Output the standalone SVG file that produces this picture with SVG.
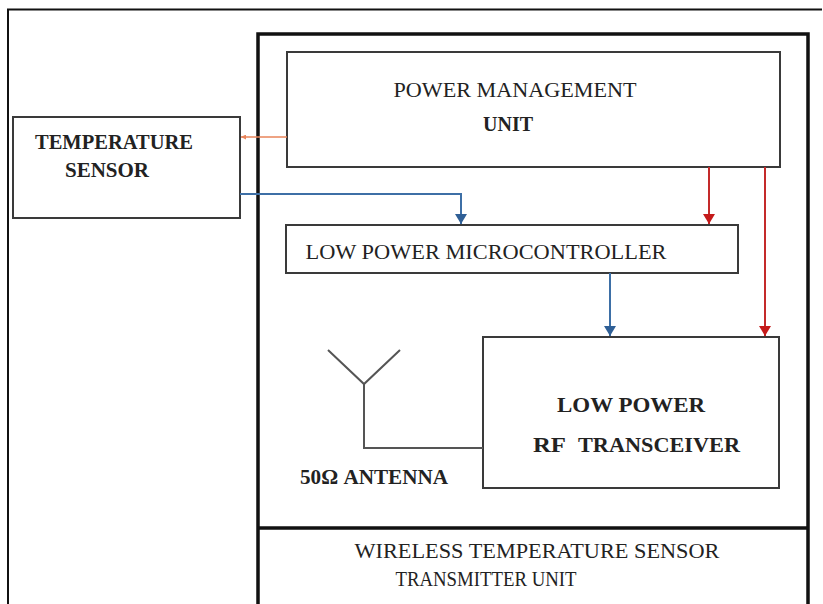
<svg xmlns="http://www.w3.org/2000/svg" width="823" height="604" viewBox="0 0 823 604">
<defs>
<style>
.box{fill:#fff;stroke:#3a3a3a;stroke-width:2}
.t{font-family:"Liberation Serif","Times New Roman",serif;fill:#222;font-size:21px}
.b{font-weight:bold}
.blue{stroke:#3d6fa6;stroke-width:2;fill:none}
.red{stroke:#c42a2a;stroke-width:2;fill:none}
.orange{stroke:#e8845a;stroke-width:1.3;fill:none}
</style>
<marker id="ab" viewBox="0 0 10 12" refX="10" refY="6" markerWidth="10" markerHeight="12" orient="auto" markerUnits="userSpaceOnUse"><path d="M0,0 L10,6 L0,12 z" fill="#2f5f96"/></marker>
<marker id="ar" viewBox="0 0 10 12" refX="10" refY="6" markerWidth="10" markerHeight="12" orient="auto" markerUnits="userSpaceOnUse"><path d="M0,0 L10,6 L0,12 z" fill="#c41a1a"/></marker>
<marker id="ao" viewBox="0 0 10 10" refX="10" refY="5" markerWidth="5" markerHeight="5" orient="auto" markerUnits="userSpaceOnUse"><path d="M0,0 L10,5 L0,10 z" fill="#e8845a"/></marker>
</defs>
<rect width="823" height="604" fill="#fff"/>
<g id="frame">
<path d="M8,604 V9.5 H822" fill="none" stroke="#111" stroke-width="2"/>
</g>
<g id="unit">
<path d="M258,604 V34 H808 V604" fill="none" stroke="#111" stroke-width="3.5"/>
<line x1="258" y1="528" x2="808" y2="528" stroke="#111" stroke-width="3.5"/>
<text class="t" x="537" y="558" text-anchor="middle" textLength="365" lengthAdjust="spacingAndGlyphs">WIRELESS TEMPERATURE SENSOR</text>
<text class="t" x="486" y="586" text-anchor="middle" textLength="181" lengthAdjust="spacingAndGlyphs">TRANSMITTER UNIT</text>
</g>
<g id="pmu">
<rect class="box" x="287" y="52" width="493" height="115"/>
<text class="t" x="515" y="97" text-anchor="middle" textLength="243" lengthAdjust="spacingAndGlyphs">POWER MANAGEMENT</text>
<text class="t b" x="508" y="131" text-anchor="middle" font-size="17" textLength="50" lengthAdjust="spacingAndGlyphs">UNIT</text>
</g>
<g id="sensor">
<rect class="box" x="13" y="117" width="227" height="101"/>
<text class="t b" x="114" y="149" text-anchor="middle" font-size="18" textLength="158" lengthAdjust="spacingAndGlyphs">TEMPERATURE</text>
<text class="t b" x="107" y="177" text-anchor="middle" font-size="18" textLength="84" lengthAdjust="spacingAndGlyphs">SENSOR</text>
</g>
<g id="mcu">
<rect class="box" x="286" y="225" width="452" height="48"/>
<text class="t" x="486" y="259" text-anchor="middle" textLength="361" lengthAdjust="spacingAndGlyphs">LOW POWER MICROCONTROLLER</text>
</g>
<g id="rf">
<rect class="box" x="483" y="337" width="296" height="151"/>
<text class="t b" x="631" y="412" text-anchor="middle" font-size="18" textLength="148" lengthAdjust="spacingAndGlyphs">LOW POWER</text>
<text class="t b" x="533" y="452" font-size="18" textLength="33" lengthAdjust="spacingAndGlyphs">RF</text>
<text class="t b" x="578" y="452" font-size="18" textLength="162" lengthAdjust="spacingAndGlyphs">TRANSCEIVER</text>
</g>
<g id="antenna">
<path d="M328,350 L364,384 L400,350 M364,384 V448 H483" fill="none" stroke="#555" stroke-width="2"/>
<text class="t b" x="374" y="484" text-anchor="middle" font-size="18" textLength="148" lengthAdjust="spacingAndGlyphs">50Ω ANTENNA</text>
</g>
<g id="connectors">
<path class="orange" d="M287,137 H241" marker-end="url(#ao)"/>
<path class="blue" d="M240,194 H461 V224" marker-end="url(#ab)"/>
<path class="red" d="M709,167 V224" marker-end="url(#ar)"/>
<path class="red" d="M765,167 V336" marker-end="url(#ar)"/>
<path class="blue" d="M610,273 V336" marker-end="url(#ab)"/>
</g>
</svg>
